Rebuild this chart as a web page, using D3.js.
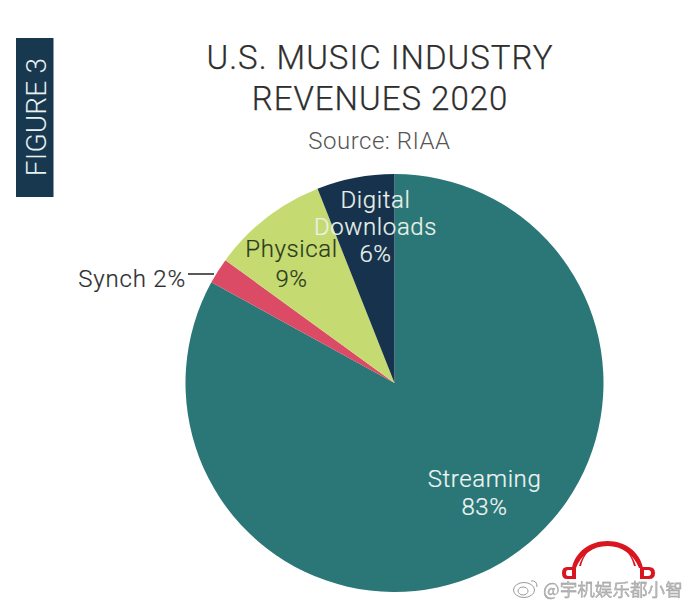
<!DOCTYPE html>
<html>
<head>
<meta charset="utf-8">
<script src="https://cdn.jsdelivr.net/npm/d3@7"></script>
<style>
  html, body { margin: 0; padding: 0; background: #fff; }
  svg { display: block; }
  text { font-family: Roboto, "Noto Sans", sans-serif; font-weight: 300; }
</style>
</head>
<body>
<svg id="chart" width="690" height="606"></svg>
<script>
const categories = ['Streaming', 'Synch', 'Physical', 'Digital Downloads'];
const shares = [83, 2, 9, 6];
const colors = ['#2b7778', '#dc4b66', '#c5db72', '#17324d'];
const titleLines = ['U.S. MUSIC INDUSTRY', 'REVENUES 2020'];
const sourceLine = 'Source: RIAA';
const figureTag = 'FIGURE 3';
const watermark = '@宇机娱乐都小智';

const cx = 394.5, cy = 383, radius = 209;
const svg = d3.select('#chart');

// side tag
svg.append('rect').attr('x', 16).attr('y', 38).attr('width', 37.5).attr('height', 159).attr('fill', '#17384f');
svg.append('text')
  .attr('transform', 'translate(45.5,117) rotate(-90)')
  .attr('text-anchor', 'middle')
  .attr('fill', '#e8f0f2')
  .style('font-size', '28px')
  .style('letter-spacing', '0.2px')
  .text(figureTag);

// title
const titleY = d3.scalePoint().domain(titleLines).range([69, 110]);
svg.selectAll('.title').data(titleLines).join('text')
  .attr('class', 'title')
  .attr('x', 380)
  .attr('y', d => titleY(d))
  .attr('text-anchor', 'middle')
  .attr('fill', '#2e2e2e')
  .attr('stroke', '#2e2e2e')
  .attr('stroke-width', 0.25)
  .style('font-size', '33px')
  .style('letter-spacing', '1px')
  .text(d => d);
svg.append('text')
  .attr('x', 379.5).attr('y', 149)
  .attr('text-anchor', 'middle')
  .attr('fill', '#555')
  .style('font-size', '24px')
  .style('letter-spacing', '0.5px')
  .text(sourceLine);

// pie, clockwise from 12 o'clock in the order of the arrays
const pie = d3.pie().sort(null).value(d => d);
const arc = d3.arc().innerRadius(0).outerRadius(radius);
const slices = pie(shares);
const g = svg.append('g').attr('transform', `translate(${cx},${cy})`);
g.selectAll('path').data(slices).join('path')
  .attr('d', arc)
  .attr('fill', (d, i) => colors[i]);

// labels: text lines, centre relative to the pie centre, one row per line
const labelSetup = [
  { lines: ['Streaming', '83%'], x: 90, y: 104, step: 28, fill: '#eef5f3' },
  null,
  { lines: ['Physical', '9%'], x: -103, y: -126, step: 30, fill: '#2c3a1c' },
  { lines: ['Digital', 'Downloads', '6%'], x: -19, y: -175, step: 27, fill: '#eaf2ea' }
];
labelSetup.forEach((l, i) => {
  if (!l) return;
  l.lines.forEach((line, k) => {
    g.append('text')
      .attr('x', l.x)
      .attr('y', l.y + k * l.step)
      .attr('text-anchor', 'middle')
      .attr('fill', l.fill)
      .attr('stroke', l.fill)
      .attr('stroke-width', 0.2)
      .style('font-size', '24px')
      .style('letter-spacing', '0.6px')
      .text(line);
  });
});

// synch sits outside the pie with a leader
const synchLabel = `${categories[1]} ${shares[1]}%`;
svg.append('text')
  .attr('x', 186).attr('y', 287)
  .attr('text-anchor', 'end')
  .attr('fill', '#2e2e2e')
  .attr('stroke', '#2e2e2e')
  .attr('stroke-width', 0.2)
  .style('font-size', '24px')
  .style('letter-spacing', '0.8px')
  .text(synchLabel);
svg.append('line')
  .attr('x1', 188).attr('x2', 214).attr('y1', 274).attr('y2', 274)
  .attr('stroke', '#222').attr('stroke-width', 1.5);

// headphone logo
const logo = svg.append('g').attr('fill', '#d9151f');
logo.append('path').attr('d', 'M572 568 C575 552 590 541 607.5 541 C625 541 640 552 643 568 L639 568 C634 555 622 546 607.5 546 C593 546 581 555 576 568 Z');
logo.append('path').attr('d', 'M579 566 C582 556 587 551 592 547 C587 552 583 558 581 566 Z');
logo.append('path').attr('d', 'M636 566 C633 556 628 551 623 547 C628 552 632 558 634 566 Z');
logo.append('path').attr('fill-rule', 'evenodd').attr('d', 'M576 567 V579 H567 Q562 579 562 573 Q562 567 567 567 Z M572 570 H568 Q566 570 566 573 Q566 576 568 576 H572 Z');
logo.append('path').attr('fill-rule', 'evenodd').attr('d', 'M640 567 V579 H649 Q655 579 655 573 Q655 567 649 567 Z M644 570 H648 Q651 570 651 573 Q651 576 648 576 H644 Z');

// weibo style watermark
const blur = svg.append('defs').append('filter').attr('id', 'soft');
blur.append('feGaussianBlur').attr('stdDeviation', 0.5);
const mark = svg.append('g').attr('filter', 'url(#soft)');
mark.append('text')
  .attr('x', 543).attr('y', 596)
  .attr('fill', '#bcbcbc')
  .style('font-family', '"Noto Sans CJK SC"')
  .style('font-weight', 400)
  .style('font-size', '17.6px')
  .style('stroke', '#8a8a8a')
  .style('stroke-width', 0.3)
  .text(watermark);
mark.append('ellipse')
  .attr('cx', 524).attr('cy', 590).attr('rx', 10.5).attr('ry', 7.5)
  .attr('fill', 'none').attr('stroke', '#999');
mark.append('ellipse')
  .attr('cx', 523).attr('cy', 591).attr('rx', 5).attr('ry', 4)
  .attr('fill', 'none').attr('stroke', '#999');
mark.append('path')
  .attr('d', 'M531 581 Q537 580 537 587')
  .attr('fill', 'none').attr('stroke', '#999');
</script>
</body>
</html>
